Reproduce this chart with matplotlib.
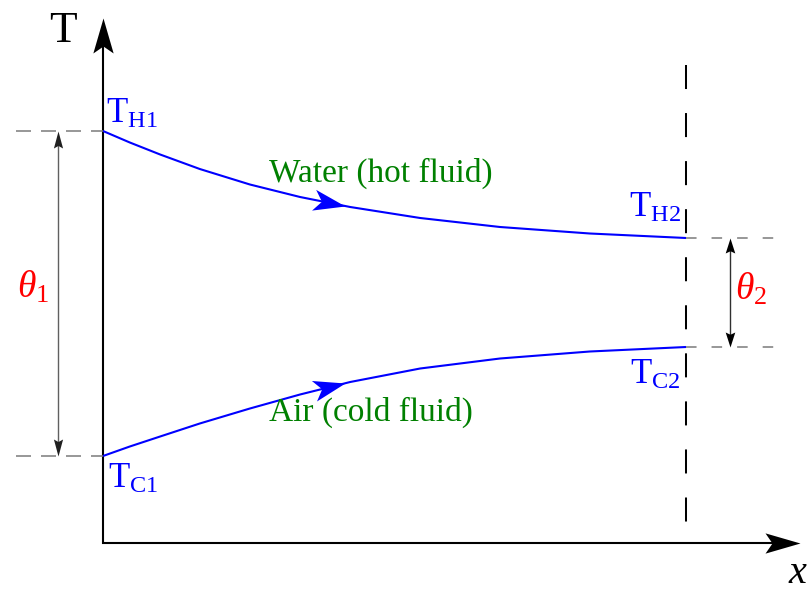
import matplotlib
matplotlib.use('Agg')
import matplotlib.pyplot as plt
import numpy as np
from matplotlib.path import Path
from matplotlib.markers import MarkerStyle
from matplotlib.transforms import Affine2D

plt.rcParams['mathtext.fontset'] = 'custom'
plt.rcParams['mathtext.rm'] = 'Liberation Serif'
plt.rcParams['mathtext.it'] = 'Liberation Serif:italic'
plt.rcParams['lines.scale_dashes'] = False

# ---- data (x along exchanger, 0..1; temperature in arbitrary units) ----
x_pos = [0.0, 0.046, 0.098, 0.166, 0.252, 0.338, 0.424, 0.544, 0.681, 0.835, 1.0]
hot_T = [4.12, 4.005, 3.885, 3.74, 3.585, 3.46, 3.36, 3.25, 3.16, 3.095, 3.05]
cold_T = [0.87, 0.965, 1.065, 1.195, 1.345, 1.485, 1.61, 1.745, 1.845, 1.915, 1.96]
hot_label = "Water (hot fluid)"
cold_label = "Air (cold fluid)"
TH1, TH2 = hot_T[0], hot_T[-1]
TC1, TC2 = cold_T[0], cold_T[-1]

W, H = 809, 591
X0, Y0, SX, SY = 103, 543, 583, 100

fig = plt.figure(figsize=(W / 100, H / 100), dpi=100)
ax = fig.add_axes([0, 0, 1, 1])
ax.axis('off')
ax.set_xlim(-X0 / SX, (W - X0) / SX)
ax.set_ylim(-(H - Y0) / SY, Y0 / SY)

pix = Affine2D().scale(1, -1).translate(0, H)  # pixel coords from top-left


def px(p):
    return (p - X0) / SX


def py(p):
    return (Y0 - p) / SY


def stealth(w, n):
    verts = [(0, 0), (-1, w), (-n, 0), (-1, -w), (0, 0)]
    codes = [Path.MOVETO, Path.LINETO, Path.LINETO, Path.LINETO, Path.CLOSEPOLY]
    return Path(verts, codes)


def head(x, y, angle, length_px, w, n, color):
    ms = 2 * length_px * 0.72
    m = MarkerStyle(stealth(w, n), transform=Affine2D().rotate_deg(angle))
    ax.plot([x], [y], marker=m, ms=ms, color=color, mec='none', mew=0,
            linestyle='none', zorder=5)


# axes with arrows
xt, yt = px(800), py(18)
ax.plot([0, 0, xt - 0.02], [yt - 0.1, 0, 0], color='black', lw=1.5,
        solid_joinstyle='miter', solid_capstyle='butt')
head(0, yt, 90, 35, 0.29, 0.8, 'black')
head(xt, 0, 0, 35, 0.29, 0.8, 'black')

# curves
ax.plot(x_pos, hot_T, color='blue', lw=1.5, solid_capstyle='butt',
        solid_joinstyle='round')
ax.plot(x_pos, cold_T, color='blue', lw=1.5, solid_capstyle='butt',
        solid_joinstyle='round')
xa = px(345)
for T in (hot_T, cold_T):
    ya = np.interp(xa, x_pos, T)
    yb = np.interp(xa - 0.03, x_pos, T)
    d = ax.transData.transform([[xa - 0.03, yb], [xa, ya]])
    ang = np.degrees(np.arctan2(d[1, 1] - d[0, 1], d[1, 0] - d[0, 0]))
    head(xa, ya, ang, 32, 0.33, 0.75, 'blue')

# vertical dashed line at exit
ax.plot([1.0, 1.0], [py(65), py(522)], color='black', lw=1.45,
        dashes=(17.3, 17.3))

# grey dashed guides
g = '#7a7a7a'
for T in (TH1, TC1):
    ax.plot([px(16), 0], [T, T], color=g, lw=1.1, dashes=(10.8, 7.2))
for T in (TH2, TC2):
    ax.plot([1.0, px(776)], [T, T], color=g, lw=1.1, dashes=(7.6, 10.8))

# theta double arrows
x1 = px(58)
ax.plot([x1, x1], [TH1 - 0.05, TC1 + 0.05], color='#606060', lw=1.0)
head(x1, TH1, 90, 17, 0.27, 0.85, '#202020')
head(x1, TC1, -90, 17, 0.27, 0.85, '#202020')
x2 = px(730.5)
ax.plot([x2, x2], [TH2 - 0.05, TC2 + 0.05], color='#303030', lw=1.0)
head(x2, TH2, 90, 15, 0.32, 0.85, 'black')
head(x2, TC2, -90, 15, 0.32, 0.85, 'black')

# texts
serif = 'Liberation Serif'
ax.text(62.5, 42, 'T', transform=pix, fontfamily=serif, fontsize=32.5,
        ha='center', va='baseline')
ax.text(797, 583, 'x', transform=pix, fontfamily=serif, fontstyle='italic',
        fontsize=29, ha='center', va='baseline')

ax.text(106, 123, r'$\mathrm{T}_{\mathrm{H1}}$', transform=pix, color='blue',
        fontsize=25, ha='left', va='baseline')
ax.text(108, 488, r'$\mathrm{T}_{\mathrm{C1}}$', transform=pix, color='blue',
        fontsize=25, ha='left', va='baseline')
ax.text(681, 217, r'$\mathrm{T}_{\mathrm{H2}}$', transform=pix, color='blue',
        fontsize=25, ha='right', va='baseline')
ax.text(681, 384, r'$\mathrm{T}_{\mathrm{C2}}$', transform=pix, color='blue',
        fontsize=25, ha='right', va='baseline')

ax.text(269, 182, hot_label, transform=pix, color='green', fontfamily=serif,
        fontsize=24, ha='left', va='baseline')
ax.text(269, 421, cold_label, transform=pix, color='green', fontfamily=serif,
        fontsize=24, ha='left', va='baseline')

ax.text(17, 298, r'$\theta_1$', transform=pix, color='red', fontsize=27,
        ha='left', va='baseline')
ax.text(735, 300, r'$\theta_2$', transform=pix, color='red', fontsize=27,
        ha='left', va='baseline')

fig.savefig('out.png', dpi=100, facecolor='white')
